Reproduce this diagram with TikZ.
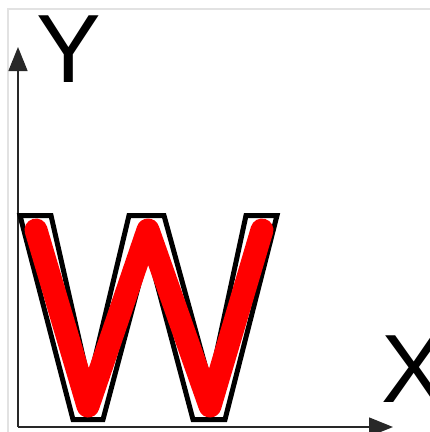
\documentclass[tikz,border=0pt]{standalone}
\usepackage{fontspec}
\setmainfont{Liberation Sans}
\usetikzlibrary{arrows.meta}

\begin{document}
\begin{tikzpicture}[x=1pt,y=-1pt]

	% Farben
	\definecolor{frame}{RGB}{226,226,226}
	\definecolor{axis}{RGB}{40,40,40}
	\definecolor{wred}{RGB}{255,0,0}

	% Hintergrund & Rahmen
	\fill[white] (0,0) rectangle (430,432);
	\useasboundingbox (0,0) rectangle (430,432);
	\draw[frame, line width=2pt] (8,432) -- (8,9) -- (430,9);

	% Achsen
	\coordinate (origin) at (18,427);
	\coordinate (ytip) at (18,47);
	\coordinate (xtip) at (393,427);
	\draw[axis, line width=1.5pt, -{Triangle[length=24pt,width=19pt]}] (origin) -- (ytip);
	\draw[axis, line width=1.5pt, -{Triangle[length=24pt,width=19pt]}] (origin) -- (xtip);
	\node[anchor=base, inner sep=0pt, font=\fontsize{97}{97}\selectfont] (ylabel) at (69,82) {Y};
	\node[anchor=base, inner sep=0pt, font=\fontsize{97}{97}\selectfont] (xlabel) at (414,402) {X};

	% W-Umriss
	\filldraw[fill=white, draw=black, line width=5pt, line join=miter]
		(20,215.5) -- (51,215.5) -- (89,383) -- (129,215.5) -- (164,215.5) -- (210,383)
		-- (246,215.5) -- (277,215.5) -- (225,419.5) -- (193,419.5) -- (148,250)
		-- (103,419.5) -- (73,419.5) -- cycle;

	% W-Mittellinie
	\draw[wred, line width=23pt, line cap=round, line join=round]
		(36,230) -- (88,406) -- (148,230) -- (210,406) -- (262,230);

\end{tikzpicture}
\end{document}
